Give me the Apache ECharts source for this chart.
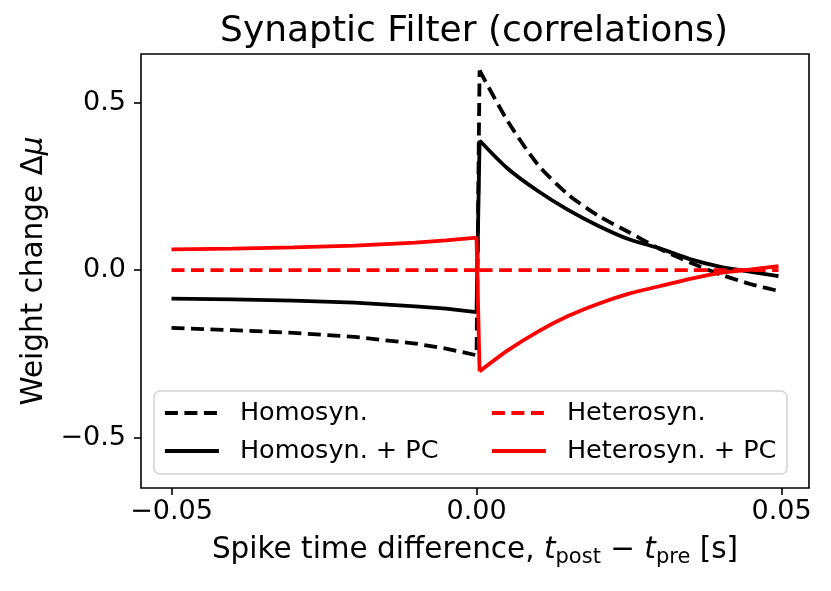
<!DOCTYPE html>
<html>
<head>
<meta charset="utf-8">
<script src="https://cdn.jsdelivr.net/npm/echarts@6/dist/echarts.min.js"></script>
<style>
  html, body { margin: 0; padding: 0; background: #fff; }
  #chart { width: 831px; height: 591px; }
</style>
</head>
<body>
<div id="chart"></div>
<script>
// spike time difference (s), before and after the post spike
const tNeg = [-0.05, -0.04, -0.03, -0.02, -0.01, -0.005, 0];
const tPos = [0.0005, 0.005, 0.01, 0.015, 0.02, 0.025, 0.03, 0.035, 0.04, 0.045, 0.0495];

// weight change
const homoNeg = [-0.172, -0.179, -0.187, -0.199, -0.219, -0.234, -0.254];
const homoPos = [0.596, 0.448, 0.316, 0.226, 0.162, 0.113, 0.064, 0.023, -0.013, -0.042, -0.062];
const homoPcNeg = [-0.085, -0.087, -0.091, -0.097, -0.108, -0.115, -0.125];
const homoPcPos = [0.387, 0.305, 0.237, 0.180, 0.132, 0.092, 0.065, 0.033, 0.010, -0.005, -0.018];
const heteroNeg = [0, 0, 0, 0, 0, 0, 0];
const heteroPos = [0, 0, 0, 0, 0, 0, 0, 0, 0, 0, 0];
const heteroPcNeg = [0.062, 0.064, 0.068, 0.073, 0.082, 0.089, 0.097];
const heteroPcPos = [-0.302, -0.241, -0.184, -0.137, -0.100, -0.070, -0.048, -0.026, -0.008, 0.002, 0.012];

const xTicks = [-0.05, 0, 0.05];
const xTickLabels = ['\u22120.05', '0.00', '0.05'];
const yTicks = [-0.5, 0, 0.5];
const yTickLabels = ['\u22120.5', '0.0', '0.5'];

const FONT = 'DejaVu Sans';
const DASH = [13, 6.5];
const LW = 3.8;

function pairs(ts, ys) {
    return ts.map((t, i) => [t, ys[i]]);
}

// left part plus the jump at t = 0 (straight), right part smooth
function curve(name, neg, pos, color, type) {
    const lineStyle = { color: color, width: LW, type: type, cap: 'butt' };
    const left = pairs(tNeg, neg).concat([[tPos[0], pos[0]]]);
    return [
        { name: name, type: 'line', data: left, symbol: 'none', lineStyle: lineStyle,
          itemStyle: { color: color }, animation: false, silent: true },
        { name: name, type: 'line', data: pairs(tPos, pos), symbol: 'none', smooth: 0.25,
          lineStyle: lineStyle, itemStyle: { color: color },
          animation: false, silent: true },
    ];
}

const chart = echarts.init(document.getElementById('chart'), null, { renderer: 'canvas' });

const legendBase = {
    orient: 'vertical',
    top: 398,
    padding: 0,
    itemWidth: 54,
    itemHeight: 14,
    itemGap: 8,
    selectedMode: false,
    itemStyle: { opacity: 0, borderWidth: 0 },
    lineStyle: { width: LW },
    textStyle: { fontFamily: FONT, fontSize: 25.5, color: '#000', lineHeight: 30, padding: [0, 0, 0, 16] },
};

chart.setOption({
    backgroundColor: '#fff',
    animation: false,
    title: {
        text: 'Synaptic Filter (correlations)',
        left: 469,
        textAlign: 'center',
        top: 9,
        textStyle: { fontFamily: FONT, fontSize: 36, fontWeight: 'normal', color: '#000' },
    },
    grid: {
        left: 141, right: 22, top: 54, bottom: 103,
        show: true, borderColor: '#000', borderWidth: 1.6, backgroundColor: 'transparent',
        outerBoundsMode: 'none',
    },
    legend: [
        Object.assign({}, legendBase, { left: 163, data: ['Homosyn.', 'Homosyn. + PC'] }),
        Object.assign({}, legendBase, { left: 490, data: ['Heterosyn.', 'Heterosyn. + PC'] }),
    ],
    graphic: [{
        type: 'rect',
        z: 3,
        shape: { x: 154, y: 391, width: 633, height: 83, r: 6 },
        style: { fill: 'rgba(255,255,255,0.8)', stroke: '#d4d4d4', lineWidth: 1.5 },
        silent: true,
    }],
    xAxis: {
        type: 'value',
        min: -0.055,
        max: 0.0545,
        name: '{a|Spike time difference, }{i|t}{s|post}{a| \u2212 }{i|t}{s|pre}{a| [s]}',
        nameLocation: 'middle',
        nameGap: 44,
        nameTextStyle: {
            rich: {
                a: { fontFamily: FONT, fontSize: 29.5, color: '#000', lineHeight: 36 },
                i: { fontFamily: FONT, fontSize: 29.5, color: '#000', fontStyle: 'italic', lineHeight: 36 },
                s: { fontFamily: FONT, fontSize: 21, color: '#000', lineHeight: 17, verticalAlign: 'bottom' },
            },
        },
        axisLine: { show: false, onZero: false },
        splitLine: { show: false },
        axisTick: { show: true, customValues: xTicks, length: 7, lineStyle: { color: '#000', width: 1.6 } },
        axisLabel: {
            customValues: xTicks,
            margin: 10,
            fontFamily: FONT, fontSize: 27, color: '#000',
            formatter: (v) => {
                const k = xTicks.indexOf(v);
                return k >= 0 ? xTickLabels[k] : String(v);
            },
        },
    },
    yAxis: {
        type: 'value',
        min: -0.65,
        max: 0.645,
        name: '{a|Weight change \u0394}{i|\u03bc}',
        nameLocation: 'middle',
        nameRotate: 90,
        nameGap: 88,
        nameTextStyle: {
            rich: {
                a: { fontFamily: FONT, fontSize: 29.5, color: '#000' },
                i: { fontFamily: FONT, fontSize: 29.5, color: '#000', fontStyle: 'italic' },
            },
        },
        axisLine: { show: false, onZero: false },
        splitLine: { show: false },
        axisTick: { show: true, customValues: yTicks, length: 7, lineStyle: { color: '#000', width: 1.6 } },
        axisLabel: {
            customValues: yTicks,
            margin: 15,
            fontFamily: FONT, fontSize: 27, color: '#000',
            formatter: (v) => {
                const k = yTicks.indexOf(v);
                return k >= 0 ? yTickLabels[k] : String(v);
            },
        },
    },
    series: [].concat(
        curve('Homosyn.', homoNeg, homoPos, '#000', DASH),
        curve('Homosyn. + PC', homoPcNeg, homoPcPos, '#000', 'solid'),
        curve('Heterosyn.', heteroNeg, heteroPos, '#ff0000', DASH),
        curve('Heterosyn. + PC', heteroPcNeg, heteroPcPos, '#ff0000', 'solid')
    ),
});
</script>
</body>
</html>
